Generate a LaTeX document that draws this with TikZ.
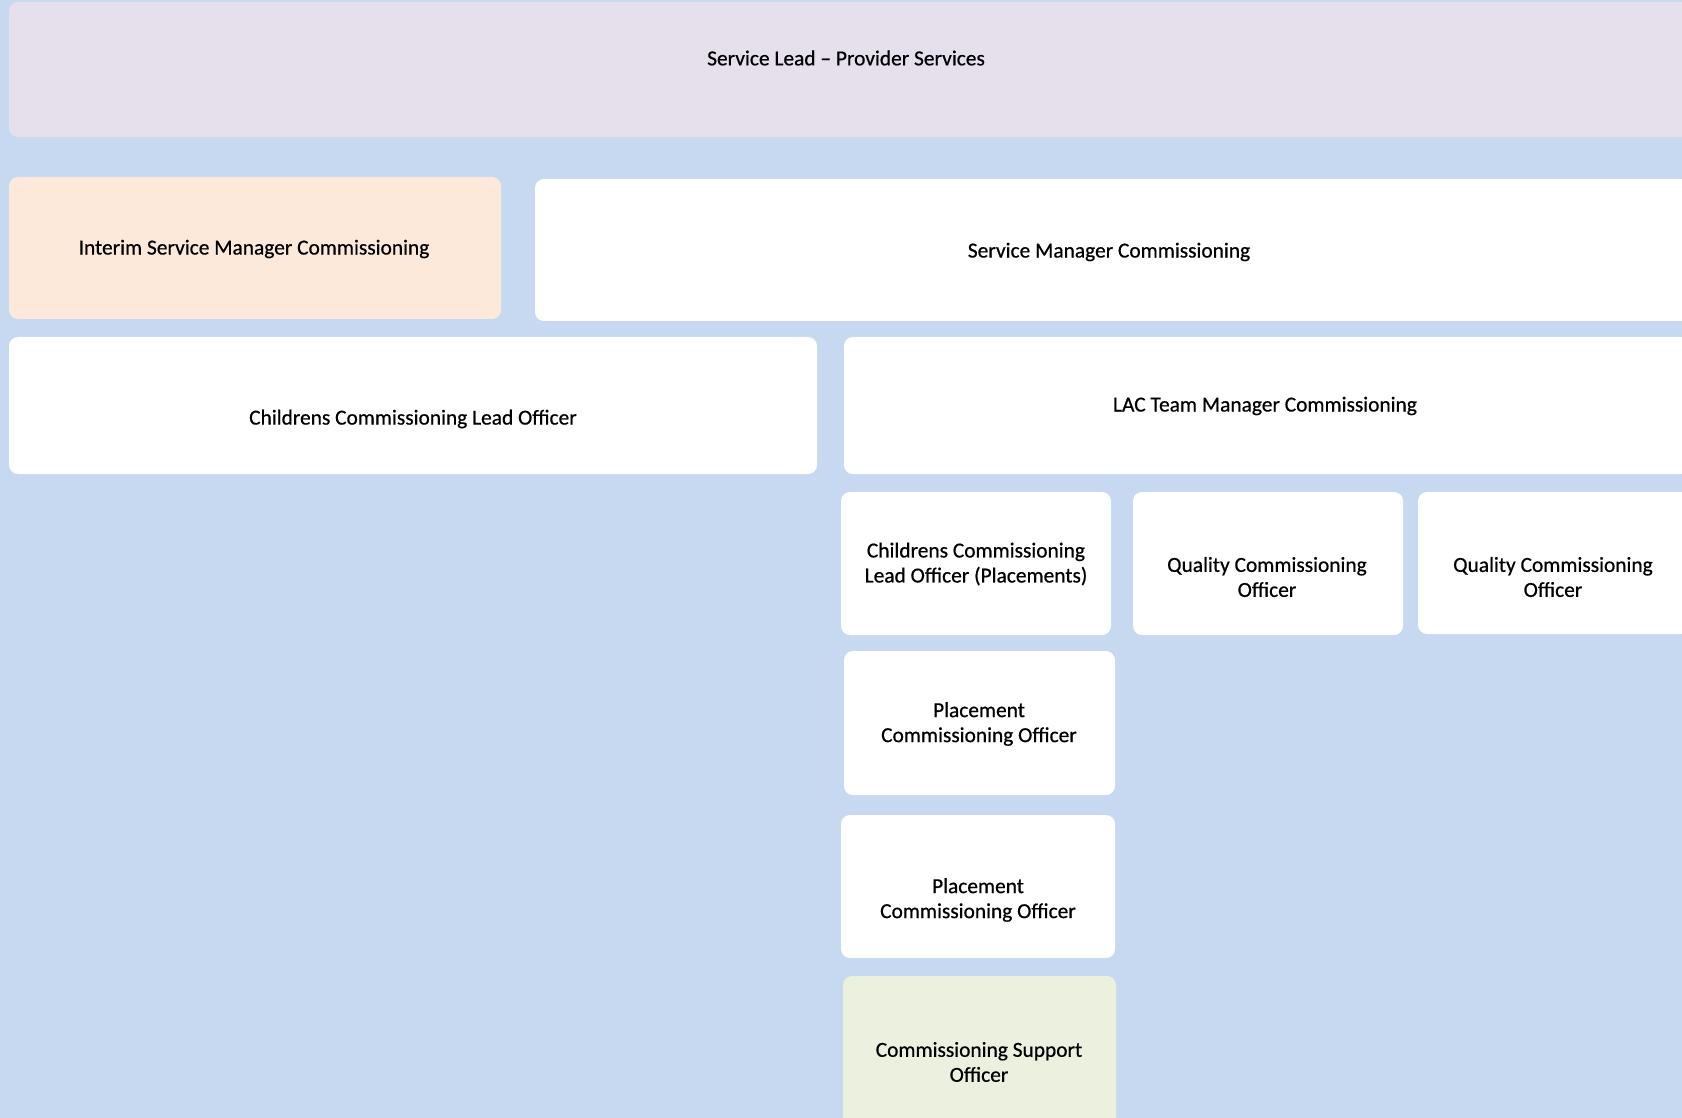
\documentclass[tikz,border=0pt]{standalone}
\usepackage{fontspec}
\setmainfont{Carlito}
\newfontface\semib{Carlito}[FakeBold=0.6,Ligatures=TeX]
\usetikzlibrary{fit}
\definecolor{bgblue}{RGB}{198,217,240}
\definecolor{lav}{RGB}{229,224,236}
\definecolor{peach}{RGB}{253,233,217}
\definecolor{paleg}{RGB}{235,241,222}
\tikzset{
  box/.style={rounded corners=4.5pt, inner sep=0pt, draw=none},
  txt/.style={align=center, inner sep=0pt, font=\semib\fontsize{10.7}{12.5}\selectfont, text=black}
}
\begin{document}
\begin{tikzpicture}[x=0.5pt,y=-0.5pt]
\useasboundingbox (0,0) rectangle (1682,1118);
\fill[bgblue] (0,0) rectangle (1682,1118);
% boxes
\node[box, fill=lav,   fit={(9,2) (1690,137)}]    (top) {};
\node[box, fill=peach, fit={(9,177) (501,319)}]   (ism) {};
\node[box, fill=white, fit={(535,179) (1690,321)}] (smc) {};
\node[box, fill=white, fit={(9,337) (817,474)}]   (cclo) {};
\node[box, fill=white, fit={(844,337) (1690,474)}] (lac) {};
\node[box, fill=white, fit={(841,492) (1111,635)}] (cclop) {};
\node[box, fill=white, fit={(1133,492) (1403,635)}] (qco1) {};
\node[box, fill=white, fit={(1418,492) (1690,634)}] (qco2) {};
\node[box, fill=white, fit={(844,651) (1115,795)}] (pco1) {};
\node[box, fill=white, fit={(841,815) (1115,958)}] (pco2) {};
\node[box, fill=paleg, fit={(843,976) (1116,1130)}] (cso) {};
% texts
\node[txt] (top-t)   at (846,58)   {Service Lead – Provider Services};
\node[txt] (ism-t)   at (254,249)  {Interim Service Manager Commissioning};
\node[txt] (smc-t)   at (1109,252) {Service Manager Commissioning};
\node[txt] (cclo-t)  at (413,419)  {Childrens Commissioning Lead Officer};
\node[txt] (lac-t)   at (1265,406) {LAC Team Manager Commissioning};
\node[txt] (cclop-t) at (976,564)  {Childrens Commissioning\\Lead Officer (Placements)};
\node[txt] (qco1-t)  at (1267,577) {Quality Commissioning\\Officer};
\node[txt] (qco2-t)  at (1553,577) {Quality Commissioning\\Officer};
\node[txt] (pco1-t)  at (979,724)  {Placement\\Commissioning Officer};
\node[txt] (pco2-t)  at (978,900)  {Placement\\Commissioning Officer};
\node[txt] (cso-t)   at (979,1062) {Commissioning Support\\Officer};
\end{tikzpicture}
\end{document}
